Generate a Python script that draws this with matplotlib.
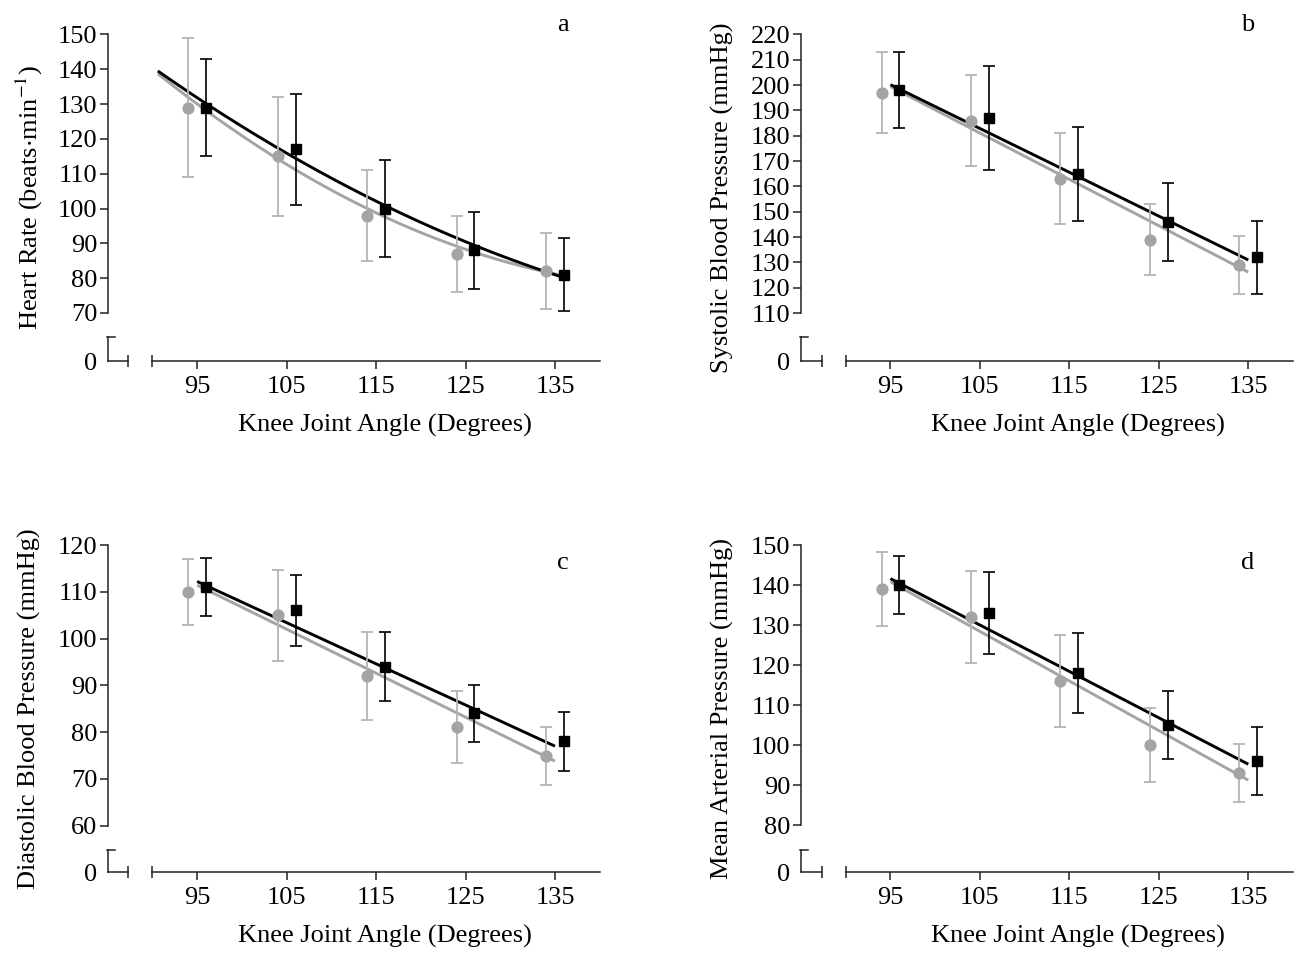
import numpy as np
import matplotlib
matplotlib.use('Agg')
import matplotlib.pyplot as plt

plt.rcParams['font.family'] = ['Liberation Serif', 'DejaVu Serif']
plt.rcParams['mathtext.fontset'] = 'stix'

# knee joint angles (grey points drawn 1 deg left, black 1 deg right)
angles = np.array([95, 105, 115, 125, 135])
xticks = [95, 105, 115, 125, 135]

hr_grey = [129, 115, 98, 87, 82]
hr_grey_err = [20, 17, 13, 11, 11]
hr_black = [129, 117, 100, 88, 81]
hr_black_err = [14, 16, 14, 11, 10.5]

sbp_grey = [197, 186, 163, 139, 129]
sbp_grey_err = [16, 18, 18, 14, 11.5]
sbp_black = [198, 187, 165, 146, 132]
sbp_black_err = [15, 20.5, 18.5, 15.5, 14.5]

dbp_grey = [110, 105, 92, 81, 75]
dbp_grey_err = [7, 9.7, 9.4, 7.7, 6.2]
dbp_black = [111, 106, 94, 84, 78]
dbp_black_err = [6.2, 7.6, 7.3, 6.1, 6.3]

map_grey = [139, 132, 116, 100, 93]
map_grey_err = [9.2, 11.5, 11.5, 9.2, 7.3]
map_black = [140, 133, 118, 105, 96]
map_black_err = [7.3, 10.2, 9.9, 8.5, 8.5]

GREY = '#a4a4a4'
GREY_ERR = '#b4b4b4'
AXC = '#222222'
FS = 19

W, H = 1299, 955
fig = plt.figure(figsize=(W / 100, H / 100), dpi=100)


def make_ax(left_px, top_px, bottom_px, width_px=492):
    return fig.add_axes([left_px / W, 1 - bottom_px / H, width_px / W, (bottom_px - top_px) / H])


def draw_panel(ax, grey, grey_err, black, black_err, deg, fit_x, ylim, ybreak,
               yticks, ylabel, letter, letter_pos, black_shift=0):
    ax.set_xlim(85, 140)
    ax.set_ylim(*ylim)

    xs = np.linspace(fit_x[0], fit_x[1], 200)
    for vals, col, sh in ((grey, GREY, 0), (black, 'black', black_shift)):
        coef = np.polyfit(angles + sh, vals, deg)
        ax.plot(xs, np.polyval(coef, xs), color=col, lw=2.1, zorder=2,
                solid_capstyle='butt')

    ax.errorbar(angles - 1, grey, yerr=grey_err, fmt='o', ms=7.8, color=GREY,
                ecolor=GREY_ERR, elinewidth=1.3, capsize=4, capthick=1.3,
                clip_on=False, zorder=3)
    ax.errorbar(angles + 1, black, yerr=black_err, fmt='s', ms=7.2, color='black',
                ecolor='black', elinewidth=1.2, capsize=4, capthick=1.2,
                clip_on=False, zorder=3)

    for s in ('top', 'right'):
        ax.spines[s].set_visible(False)
    for s in ('left', 'bottom'):
        ax.spines[s].set_color(AXC)
        ax.spines[s].set_linewidth(1.1)
    ax.spines['left'].set_bounds(yticks[0], yticks[-1])
    ax.spines['bottom'].set_bounds(90, 140)

    # broken axis pieces
    y0 = ylim[0]
    ax.plot([85, 85], [y0, ybreak], color=AXC, lw=1.1, clip_on=False)
    ax.plot([84.9, 85.8], [ybreak, ybreak], color=AXC, lw=1.1, clip_on=False)
    ax.plot([85, 87.3], [y0, y0], color=AXC, lw=1.1, clip_on=False)
    ax.plot([87.3, 90], [y0, y0], ls='none', marker='|', ms=8, mew=1.1,
            color=AXC, clip_on=False)

    ax.set_xticks(xticks)
    ax.set_yticks(yticks)
    ax.set_yticks([y0], ['0'], minor=True)
    ax.tick_params(axis='both', which='major', direction='out', length=6,
                   width=1.1, color=AXC, labelsize=FS)
    ax.tick_params(axis='y', which='major', pad=1.5)
    ax.tick_params(axis='x', which='major', pad=5)
    ax.tick_params(axis='y', which='minor', length=0, pad=7.5, labelsize=FS)

    ax.set_xlabel('Knee Joint Angle (Degrees)', fontsize=FS)
    ax.xaxis.set_label_coords(0.5626, -0.196)
    ax.xaxis.label.set_va('center')
    ax.set_ylabel(ylabel, fontsize=FS)
    ax.yaxis.set_label_coords(-0.16, 0.5)
    ax.yaxis.label.set_va('center')

    ax.text(letter_pos[0], letter_pos[1], letter, transform=ax.transAxes,
            fontsize=FS, ha='center', va='baseline')


ax_a = make_ax(107.7, 34.5, 361)
draw_panel(ax_a, hr_grey, hr_grey_err, hr_black, hr_black_err, 2, (90.6, 135.5),
           (56.2, 150), 63.1, list(range(70, 151, 10)),
           'Heart Rate (beats$\\cdot$min$^{-1}$)', 'a', (0.925, 1.012),
           black_shift=1)

ax_b = make_ax(801, 34.5, 361)
draw_panel(ax_b, sbp_grey, sbp_grey_err, sbp_black, sbp_black_err, 1, (95, 135),
           (91.1, 220), 100.5, list(range(110, 221, 10)),
           'Systolic Blood Pressure (mmHg)', 'b', (0.908, 1.012))

ax_c = make_ax(107.7, 545, 872)
draw_panel(ax_c, dbp_grey, dbp_grey_err, dbp_black, dbp_black_err, 1, (95, 135),
           (50.1, 120), 54.8, list(range(60, 121, 10)),
           'Diastolic Blood Pressure (mmHg)', 'c', (0.925, 0.927))

ax_d = make_ax(801, 545, 872)
draw_panel(ax_d, map_grey, map_grey_err, map_black, map_black_err, 1, (95, 135),
           (68.25, 150), 73.75, list(range(80, 151, 10)),
           'Mean Arterial Pressure (mmHg)', 'd', (0.907, 0.927))

fig.savefig('out.png', dpi=100)
